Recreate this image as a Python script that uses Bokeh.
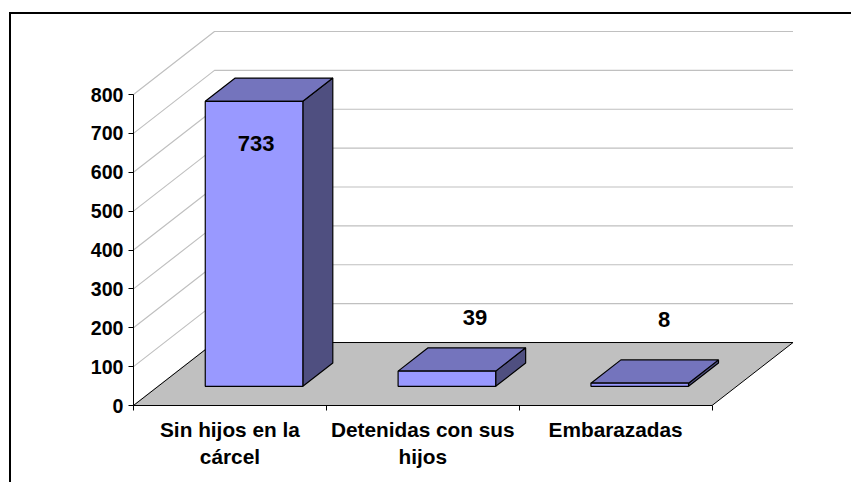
from bokeh.plotting import figure
from bokeh.models import ColumnDataSource, Range1d, LinearAxis, FixedTicker
from bokeh.core.properties import value
from bokeh.embed import file_html
from bokeh.resources import INLINE

categories = ["Sin hijos en la\ncárcel", "Detenidas con sus\nhijos", "Embarazadas"]
counts = [733, 39, 8]
y_ticks = [0, 100, 200, 300, 400, 500, 600, 700, 800]

# projection of the 3-D box: depth 0 = front, 1 = back wall
DX, DY = 0.42, 162.0
BAR_L, BAR_W = 0.244, 0.506
BAR_D0, BAR_D1 = 0.305, 0.675
FONT = "Liberation Sans"

W, H = 842, 470
LEFT, BOTTOM_M, TOP_M, RIGHT_M = 122.5, 79, 11, 53
px_x = 192.7
px_y = 0.38875
fw = W - LEFT - RIGHT_M
fh = H - BOTTOM_M - TOP_M

p = figure(width=W, height=H, output_backend="svg", toolbar_location=None,
           x_range=Range1d(0, fw / px_x), y_range=Range1d(0, fh / px_y),
           min_border_left=int(LEFT), min_border_right=RIGHT_M,
           min_border_top=TOP_M, min_border_bottom=BOTTOM_M,
           x_axis_type=None, y_axis_type=None)
p.outline_line_color = None
p.grid.visible = False
p.background_fill_color = "white"
p.styles = {"border-left": "2px solid black", "border-top": "2px solid black",
            "margin-left": "9px", "margin-top": "12px"}


def proj(x, v, d):
    return x + d * DX, v + d * DY


# wall gridlines
xs, ys = [], []
for t in y_ticks:
    a, b, c = proj(0, t, 0), proj(0, t, 1), proj(len(counts), t, 1)
    xs.append([a[0], b[0], c[0]])
    ys.append([a[1], b[1], c[1]])
p.multi_line(xs, ys, line_color="#C0C0C0", line_width=1.2)

# floor
corners = [proj(0, 0, 0), proj(len(counts), 0, 0), proj(len(counts), 0, 1), proj(0, 0, 1)]
p.patch([c[0] for c in corners], [c[1] for c in corners],
        fill_color="#C0C0C0", line_color="black", line_width=1)

# bars
for i, v in enumerate(counts):
    l, r = i + BAR_L, i + BAR_L + BAR_W
    side = [proj(r, 0, BAR_D0), proj(r, 0, BAR_D1), proj(r, v, BAR_D1), proj(r, v, BAR_D0)]
    top = [proj(l, v, BAR_D0), proj(r, v, BAR_D0), proj(r, v, BAR_D1), proj(l, v, BAR_D1)]
    front = [proj(l, 0, BAR_D0), proj(r, 0, BAR_D0), proj(r, v, BAR_D0), proj(l, v, BAR_D0)]
    for face, col in ((side, "#4F4F80"), (top, "#7474BD"), (front, "#9999FF")):
        p.patch([c[0] for c in face], [c[1] for c in face], fill_color=col,
                line_color="black", line_width=1.2)

# value labels (pixel offsets from the top-front centre of each bar)
cx = [proj(i + BAR_L + BAR_W / 2, 0, BAR_D0)[0] for i in range(len(counts))]
cy = [proj(0, v, BAR_D0)[1] for v in counts]
src = ColumnDataSource(dict(x=cx, y=cy, t=[str(v) for v in counts],
                            ox=[2, 28, 24.5], oy=[42, -54, -64]))
p.text(x="x", y="y", text="t", source=src, x_offset="ox", y_offset="oy",
       text_font=value(FONT), text_font_style="bold", text_font_size="22px",
       text_align="center", text_baseline="middle", text_color="black")

# axes
ya = LinearAxis(ticker=FixedTicker(ticks=y_ticks), bounds=(0, 800))
ya.major_label_text_font = FONT
ya.major_label_text_font_style = "bold"
ya.major_label_text_font_size = "19.6px"
ya.major_label_text_color = "black"
ya.major_tick_out = 5
ya.major_tick_in = 0
ya.minor_tick_line_color = None
ya.major_label_standoff = 5
p.add_layout(ya, "left")

xa = LinearAxis(ticker=FixedTicker(ticks=[i + 0.5 for i in range(len(categories))],
                                   minor_ticks=list(range(len(categories) + 1))),
                bounds=(0, len(categories)))
xa.major_label_overrides = {i + 0.5: c for i, c in enumerate(categories)}
xa.major_label_text_font = FONT
xa.major_label_text_font_style = "bold"
xa.major_label_text_font_size = "20.8px"
xa.major_label_text_color = "black"
xa.major_label_text_line_height = 1.2
xa.major_tick_line_color = None
xa.major_tick_out = 0
xa.major_tick_in = 0
xa.minor_tick_out = 5
xa.minor_tick_in = 0
xa.major_label_standoff = 7
p.add_layout(xa, "below")

open("out.html", "w").write(file_html(p, INLINE))
